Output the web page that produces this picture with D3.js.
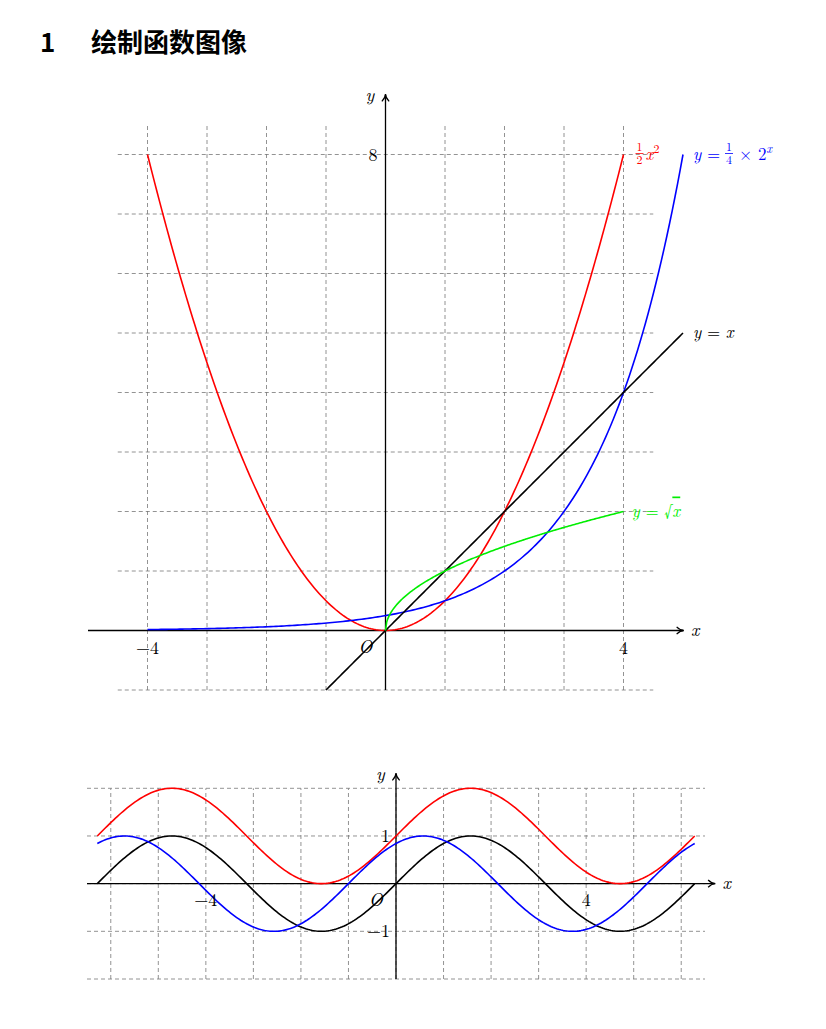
<!DOCTYPE html>
<html><head><meta charset="utf-8">
<script src="https://cdn.jsdelivr.net/npm/d3@7"></script>
<style>body{margin:0;background:#fff}text{font-family:"Latin Modern Roman","Liberation Serif","DejaVu Serif",serif}</style>
</head><body>
<svg id="c" width="826" height="1029"></svg>
<script>
// chart 1: functions drawn on [-4,4] etc.
const topX = [-5, 5], topY = [-1, 9];
const topXTicks = [-4, 4], topYTicks = [8];
const topCurves = [
  {name: "half", color: "red", from: -4, to: 4, f: x => x * x / 2},
  {name: "exp", color: "blue", from: -4, to: 5, f: x => Math.pow(2, x) / 4},
  {name: "lin", color: "black", from: -1, to: 5, f: x => x},
  {name: "sqrt", color: "#00ee00", from: 0, to: 4, f: x => Math.sqrt(x)}
];
// chart 2: trig
const botX = [-6.5, 6.5], botY = [-2, 2.3];
const botXTicks = [-4, 4], botYTicks = [1, -1];
const TAU = 2 * Math.PI;
const botCurves = [
  {color: "red", from: -TAU, to: TAU, f: x => 1 + Math.sin(x)},
  {color: "black", from: -TAU, to: TAU, f: x => Math.sin(x)},
  {color: "blue", from: -TAU, to: TAU, f: x => Math.sin(x + 1)}
];

const svg = d3.select("#c");
svg.append("text").attr("x", 40).attr("y", 52).attr("font-size", 26).attr("font-weight", "bold")
  .style("font-family", "'Noto Sans CJK SC',sans-serif").text("1");
svg.append("text").attr("x", 91).attr("y", 52).attr("font-size", 26).attr("font-weight", "bold")
  .style("font-family", "'Noto Sans CJK SC',sans-serif").text("绘制函数图像");

const defs = svg.append("defs");
defs.append("marker").attr("id", "arr").attr("viewBox", "0 0 10 10").attr("refX", 8).attr("refY", 5)
  .attr("markerWidth", 7).attr("markerHeight", 7).attr("orient", "auto")
  .append("path").attr("d", "M1,1 Q5,5 9,5 Q5,5 1,9").attr("fill", "none").attr("stroke", "#000").attr("stroke-width", 1.4);

function sample(c, n) { return d3.range(n + 1).map(i => { const x = c.from + (c.to - c.from) * i / n; return [x, c.f(x)]; }); }

function frame(x, y, gx, gy, xs, ys) {
  const g = svg.append("g");
  xs.forEach(v => g.append("line").attr("x1", x(v)).attr("x2", x(v)).attr("y1", y(gy[0])).attr("y2", y(gy[1])));
  ys.forEach(v => g.append("line").attr("y1", y(v)).attr("y2", y(v)).attr("x1", x(gx[0])).attr("x2", x(gx[1])));
  g.selectAll("line").attr("stroke", "#777").attr("stroke-width", 0.8).attr("stroke-dasharray", "4,3");
}

function axes(x, y, xr, yr) {
  svg.append("line").attr("x1", x(xr[0])).attr("x2", x(xr[1])).attr("y1", y(0)).attr("y2", y(0))
    .attr("stroke", "#000").attr("stroke-width", 1.3).attr("marker-end", "url(#arr)");
  svg.append("line").attr("x1", x(0)).attr("x2", x(0)).attr("y1", y(yr[0])).attr("y2", y(yr[1]))
    .attr("stroke", "#000").attr("stroke-width", 1.3).attr("marker-end", "url(#arr)");
  svg.append("text").attr("x", x(xr[1]) + 8).attr("y", y(0) + 5).attr("font-size", 18).attr("font-style", "italic").text("x");
  svg.append("text").attr("x", x(0) - 20).attr("y", y(yr[1]) + 6).attr("font-size", 18).attr("font-style", "italic").text("y");
  svg.append("text").attr("x", x(0) - 27).attr("y", y(0) + 22).attr("font-size", 18).attr("font-style", "italic").text("O");
}

function txt(xp, yp, s, opts = {}) {
  return svg.append("text").attr("x", xp).attr("y", yp).attr("font-size", opts.size || 18)
    .attr("fill", opts.color || "#000").attr("text-anchor", opts.anchor || "start").text(s);
}
function frac(xp, yp, num, den, color) {
  txt(xp + 4, yp - 4, num, {size: 12, color, anchor: "middle"});
  txt(xp + 4, yp + 9, den, {size: 12, color, anchor: "middle"});
  svg.append("line").attr("x1", xp).attr("x2", xp + 8).attr("y1", yp - 1).attr("y2", yp - 1).attr("stroke", color).attr("stroke-width", 0.8);
}

// top chart
{
  const x = d3.scaleLinear().domain(topX).range([88, 683]);
  const y = d3.scaleLinear().domain(topY).range([690, 95]);
  frame(x, y, [-4.5, 4.5], [-1, 8.5], d3.range(-4, 5), d3.range(-1, 9));
  axes(x, y, topX, topY);
  const line = d3.line().x(d => x(d[0])).y(d => y(d[1]));
  topCurves.forEach(c => svg.append("path").attr("d", line(sample(c, 200))).attr("fill", "none").attr("stroke", c.color).attr("stroke-width", 1.6));
  topXTicks.forEach(v => txt(x(v), y(0) + 23, v < 0 ? "\u2212" + (-v) : v, {anchor: "middle"}));
  topYTicks.forEach(v => txt(x(0) - 8, y(v) + 6, v, {anchor: "end"}));
  // labels
  frac(x(4) + 12, y(8), "1", "2", "red");
  svg.append("text").attr("x", x(4) + 22).attr("y", y(8) + 5).attr("fill", "red").attr("font-size", 17)
    .html('<tspan font-style="italic">x</tspan><tspan dy="-7" font-size="12">2</tspan>');
  svg.append("text").attr("x", x(5) + 10).attr("y", y(8) + 5).attr("fill", "blue").attr("font-size", 17)
    .html('<tspan font-style="italic">y</tspan> =');
  frac(x(5) + 42, y(8), "1", "4", "blue");
  svg.append("text").attr("x", x(5) + 56).attr("y", y(8) + 5).attr("fill", "blue").attr("font-size", 17)
    .html('× 2<tspan dy="-7" font-size="12" font-style="italic">x</tspan>');
  svg.append("text").attr("x", x(5) + 10).attr("y", y(5) + 5).attr("font-size", 17)
    .html('<tspan font-style="italic">y</tspan> = <tspan font-style="italic">x</tspan>');
  svg.append("text").attr("x", x(4) + 8).attr("y", y(2) + 5).attr("font-size", 17).attr("fill", "#00ee00")
    .html('<tspan font-style="italic">y</tspan> = √<tspan font-style="italic" text-decoration="overline">x</tspan>');
}

// bottom chart
{
  const x = d3.scaleLinear().domain(botX).range([87, 705]);
  const y = d3.scaleLinear().domain(botY).range([979, 774]);
  frame(x, y, [-6.5, 6.5], [-2, 2], d3.range(-6, 7), d3.range(-2, 3));
  axes(x, y, [-6.5, 6.7], botY);
  const line = d3.line().x(d => x(d[0])).y(d => y(d[1]));
  botCurves.forEach(c => svg.append("path").attr("d", line(sample(c, 300))).attr("fill", "none").attr("stroke", c.color).attr("stroke-width", 1.6));
  botXTicks.forEach(v => txt(x(v), y(0) + 22, v < 0 ? "\u2212" + (-v) : v, {anchor: "middle"}));
  botYTicks.forEach(v => txt(x(0) - 6, y(v) + 6, v < 0 ? "\u2212" + (-v) : v, {anchor: "end"}));
}
</script>
</body></html>
